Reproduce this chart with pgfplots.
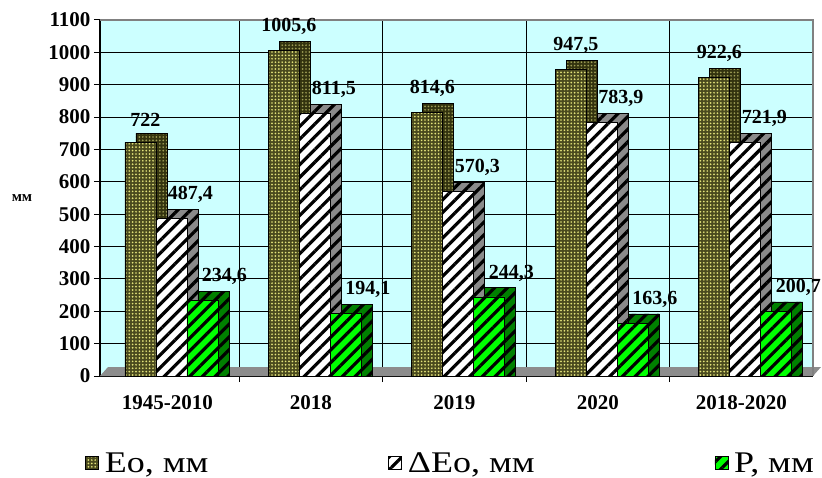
\documentclass[border=0pt]{standalone}
\usepackage{fontspec}
\setmainfont{Liberation Serif}
\newfontfamily\legfont[FakeStretch=1.2]{Liberation Serif}
\usepackage{pgfplots}
\usepackage{pgfplotstable}
\pgfplotsset{compat=1.18}
\usetikzlibrary{patterns.meta}

\definecolor{bgcyan}{HTML}{CCFFFF}
\definecolor{eofill}{HTML}{4A4A1E}
\definecolor{eoside}{HTML}{33330F}
\definecolor{eodot}{HTML}{E2E27A}
\definecolor{pgreen}{HTML}{00FF00}
\definecolor{pside}{HTML}{008000}
\definecolor{dside}{HTML}{8A8A8A}
\definecolor{floorgray}{HTML}{8C8C8C}

\pgfplotstableread{
x eo deo p
0 722 487.4 234.6
1 1005.6 811.5 194.1
2 814.6 570.3 244.3
3 947.5 783.9 163.6
4 922.6 721.9 200.7
}\datatable

\pgfplotsset{
  legimg/.style={legend image code/.code={\draw[##1,line width=0.6pt] (0pt,-6.5pt) rectangle (13pt,6.5pt);}},
  lbl/.style={nodes near coords,
    nodes near coords style={font=\fontsize{20}{22}\selectfont\bfseries, anchor=south, yshift=12pt, xshift=#1,
      /pgf/number format/.cd, use comma, fixed, precision=1, 1000 sep={}, assume math mode=true}},
  shade/.style={forget plot, draw=black, line width=0.8pt},
}

\begin{document}
\begin{tikzpicture}
\begin{axis}[
  at={(0,0)}, anchor=south west,
  scale only axis, width=713pt, height=356pt,
  xmin=-0.47, xmax=4.5, ymin=0, ymax=1100,
  ybar=0pt, bar width=31pt,
  axis x line*=bottom, axis y line*=left,
  axis line style={black, line width=1.2pt},
  axis background/.style={fill=bgcyan},
  xtick={0,1,2,3,4},
  xticklabels={1945-2010,2018,2019,2020,2018-2020},
  major x tick style={draw=none},
  minor xtick={0.5,1.5,2.5,3.5},
  xminorgrids,
  minor x tick style={black, line width=1pt},
  ytick={0,100,...,1100},
  ymajorgrids,
  tick align=outside,
  major tick length=6pt, minor tick length=6pt,
  major y tick style={black, line width=1pt},
  grid style={black, line width=0.9pt},
  minor grid style={black, line width=0.9pt},
  /pgf/number format/assume math mode=true,
  /pgf/number format/1000 sep={},
  ticklabel style={font=\fontsize{21}{24}\selectfont\bfseries},
  xticklabel style={yshift=-10pt},
  ylabel={мм},
  ylabel style={rotate=-90, font=\fontsize{15}{17}\selectfont\bfseries, at={(axis description cs:0,0.5)}, anchor=center, xshift=-78pt},
  legend columns=3,
  legend style={draw=none, fill=none, at={(axis description cs:0.5,0)}, anchor=center, yshift=-87pt, xshift=-6pt,
    font=\legfont\fontsize{30}{32}\selectfont, legend cell align=left,
    /tikz/every odd column/.append style={column sep=4pt},
    /tikz/every even column/.append style={column sep=178pt}},
  clip=false,
]
\fill[floorgray] (rel axis cs:0,0) -- (rel axis cs:1,0) -- ([xshift=8pt,yshift=9pt]rel axis cs:1,0) -- ([xshift=8pt,yshift=9pt]rel axis cs:0,0) -- cycle;
% depth (3D side) faces
\addplot[shade, bar shift=-16pt, fill=eoside,
  postaction={pattern={Dots[distance=3.4pt, radius=0.95pt]}, pattern color=eodot!70!black}]
  table[x=x, y expr=\thisrow{eo}+28] {\datatable};
\addplot[shade, bar shift=15pt, fill=dside,
  postaction={pattern={Lines[angle=45, distance=9pt, line width=3.2pt]}, pattern color=black}]
  table[x=x, y expr=\thisrow{deo}+28] {\datatable};
\addplot[shade, bar shift=46pt, fill=pside,
  postaction={pattern={Lines[angle=45, distance=9pt, line width=3.2pt]}, pattern color=black}]
  table[x=x, y expr=\thisrow{p}+28] {\datatable};
% front faces
\addplot[legimg, lbl=5pt, bar shift=-27pt, draw=black, line width=0.8pt, fill=eofill,
  postaction={pattern={Dots[distance=3.4pt, radius=0.95pt]}, pattern color=eodot}]
  table[x=x, y=eo] {\datatable};
\addplot[legimg, lbl=19pt, bar shift=4pt, draw=black, line width=0.8pt, fill=white,
  postaction={pattern={Lines[angle=45, distance=9pt, line width=3.2pt]}, pattern color=black}]
  table[x=x, y=deo] {\datatable};
\addplot[legimg, lbl=22pt, bar shift=35pt, draw=black, line width=0.8pt, fill=pgreen,
  postaction={pattern={Lines[angle=45, distance=9pt, line width=3.2pt]}, pattern color=black}]
  table[x=x, y=p] {\datatable};
\legend{{Eo, мм}, {ΔEo, мм}, {P, мм}}
\draw[gray, line width=1.2pt] (rel axis cs:0,1) -- (rel axis cs:1,1) -- (rel axis cs:1,0);
\end{axis}
\pgfresetboundingbox
\useasboundingbox (-100pt,-101pt) rectangle (722pt,376pt);
\end{tikzpicture}
\end{document}
